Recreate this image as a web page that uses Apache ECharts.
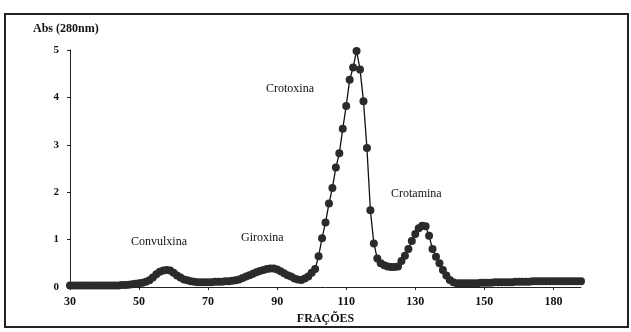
<!DOCTYPE html>
<html>
<head>
<meta charset="utf-8">
<script src="https://cdn.jsdelivr.net/npm/echarts@6/dist/echarts.min.js"></script>
<style>
html,body{margin:0;padding:0;background:#fff;}
#chart{width:631px;height:332px;}
</style>
</head>
<body>
<div id="chart"></div>
<script>
// Fraction numbers (category axis); collection was every 2 fractions after 160
var fractions = [];
for (var f = 30; f <= 160; f++) fractions.push(String(f));
for (var g = 162; g <= 196; g += 2) fractions.push(String(g));

var tickLabelEvery = 20;

// Absorbance at 280 nm, one value per fraction
var absorbance = [
  0.03,0.03,0.03,0.03,0.03,0.03,0.03,0.03,0.03,0.03,
  0.03,0.03,0.03,0.03,0.03,0.04,0.04,0.05,0.06,0.07,
  0.08,0.09,0.11,0.14,0.20,0.27,0.32,0.35,0.36,0.35,
  0.30,0.24,0.20,0.16,0.14,0.12,0.11,0.10,0.10,0.10,
  0.10,0.10,0.11,0.11,0.11,0.12,0.12,0.13,0.14,0.16,
  0.19,0.22,0.25,0.28,0.31,0.34,0.36,0.38,0.39,0.39,
  0.37,0.33,0.29,0.25,0.22,0.18,0.16,0.15,0.18,0.22,
  0.30,0.38,0.65,1.03,1.36,1.76,2.09,2.52,2.82,3.34,
  3.82,4.37,4.63,4.98,4.59,3.92,2.93,1.62,0.92,0.60,
  0.50,0.46,0.43,0.42,0.42,0.43,0.55,0.66,0.80,0.97,
  1.12,1.24,1.29,1.28,1.08,0.80,0.64,0.50,0.36,0.24,
  0.15,0.10,0.08,0.08,0.08,0.08,0.08,0.08,0.08,0.09,
  0.09,0.09,0.09,0.10,0.10,0.10,0.10,0.10,0.10,0.11,
  0.11,0.11,0.11,0.11,0.12,0.12,0.12,0.12,0.12,0.12,
  0.12,0.12,0.12,0.12,0.12,0.12,0.12,0.12,0.12
];

var peakNames = ['Convulxina','Giroxina','Crotoxina','Crotamina'];
var yTicks = [0,1,2,3,4,5];

var serif = '"Liberation Serif","DejaVu Serif",serif';
var chart = echarts.init(document.getElementById('chart'));
chart.setOption({
  backgroundColor: '#ffffff',
  animation: false,
  grid: {left: 70, top: 50, right: 50, bottom: 45, containLabel: false},
  xAxis: {
    type: 'category',
    data: fractions,
    boundaryGap: false,
    axisLine: {lineStyle: {color: '#222', width: 1}},
    axisTick: {show: true, length: 3, lineStyle: {color: '#222'},
      interval: function (i) { return i % tickLabelEvery === 0; }},
    axisLabel: {
      interval: function (i) { return i % tickLabelEvery === 0; },
      color: '#111', fontFamily: serif, fontWeight: 'bold', fontSize: 12, margin: 9
    },
    name: 'FRAÇÕES',
    nameLocation: 'middle',
    nameGap: 21,
    nameTextStyle: {color: '#111', fontFamily: serif, fontWeight: 'bold', fontSize: 12},
    splitLine: {show: false}
  },
  yAxis: {
    type: 'value',
    min: yTicks[0], max: yTicks[yTicks.length - 1], interval: 1,
    axisLine: {show: true, lineStyle: {color: '#222', width: 1}},
    axisTick: {show: true, length: 3, lineStyle: {color: '#222'}},
    axisLabel: {color: '#111', fontFamily: serif, fontWeight: 'bold', fontSize: 11, margin: 11},
    splitLine: {show: false}
  },
  series: [{
    type: 'line',
    data: absorbance,
    symbol: 'circle',
    symbolSize: 8,
    showAllSymbol: true,
    itemStyle: {color: '#2b2b2b'},
    lineStyle: {color: '#111', width: 1.3},
    z: 3
  }],
  graphic: [
    {type: 'rect', shape: {x: 5, y: 14, width: 623, height: 313},
     style: {fill: 'none', stroke: '#222', lineWidth: 2}, z: 10},
    {type: 'text', left: 33, top: 23, style: {text: 'Abs (280nm)', font: 'bold 12px ' + serif, fill: '#111'}},
    {type: 'text', left: 131, top: 236, style: {text: peakNames[0], font: '12px ' + serif, fill: '#111'}},
    {type: 'text', left: 241, top: 232, style: {text: peakNames[1], font: '12px ' + serif, fill: '#111'}},
    {type: 'text', left: 266, top: 83, style: {text: peakNames[2], font: '12px ' + serif, fill: '#111'}},
    {type: 'text', left: 391, top: 188, style: {text: peakNames[3], font: '12px ' + serif, fill: '#111'}}
  ]
});
</script>
</body>
</html>
